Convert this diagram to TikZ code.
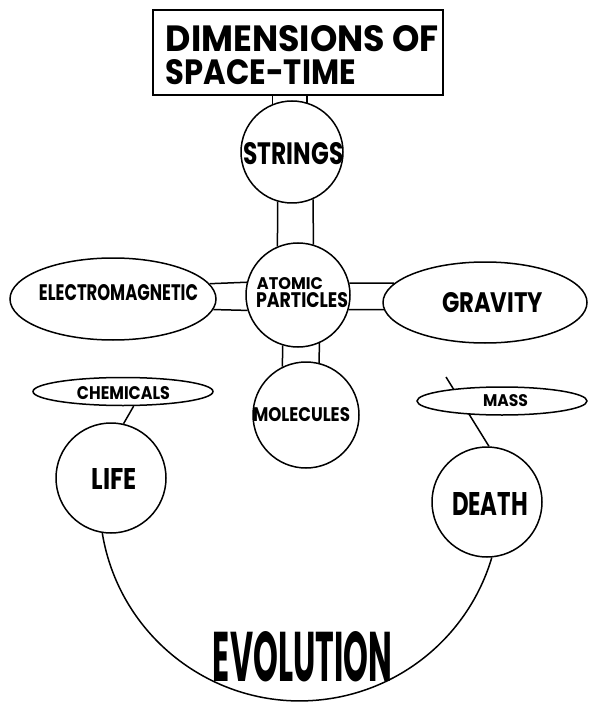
\documentclass[tikz,border=0pt]{standalone}
\usepackage{fontspec}
\setmainfont{Poppins}
\usepackage{graphicx}
\usetikzlibrary{shapes.geometric}
\begin{document}
\begin{tikzpicture}[x=1pt,y=-1pt,line width=1.5pt,
  circ/.style={circle,draw,inner sep=0pt,minimum size=#1},
  ell/.style 2 args={ellipse,draw,fill=white,inner sep=0pt,minimum width=#1,minimum height=#2},
  lbl/.style={inner sep=0pt,font=\bfseries}]
\useasboundingbox (0,0) rectangle (588,708);
% title
\node[draw,rectangle,inner sep=0pt,minimum width=290pt,minimum height=85pt] (title) at (298,52.5) {};
\node[lbl,anchor=base west] (t1) at (165,52) {\resizebox{273pt}{26pt}{DIMENSIONS OF}};
\node[lbl,anchor=base west] (t2) at (165,85) {\resizebox{190pt}{25pt}{SPACE-TIME}};
% nodes
\node[circ=102pt] (s) at (292,152) {};
\node[lbl] (st) at (293.5,154) {\resizebox{100pt}{22pt}{STRINGS}};
\node[circ=104pt] (a) at (298,295) {};
\node[lbl] (at1) at (290,284) {\resizebox{66pt}{12pt}{ATOMIC}};
\node[lbl] (at2) at (302,300.5) {\resizebox{92pt}{15pt}{PARTICLES}};
\node[ell={206pt}{82pt}] (em) at (113,299) {};
\node[lbl] (emt) at (118.5,293) {\resizebox{159pt}{16pt}{ELECTROMAGNETIC}};
\node[ell={204pt}{81pt}] (g) at (485,302.5) {};
\node[lbl] (gt) at (492.5,303) {\resizebox{101pt}{20pt}{GRAVITY}};
\node[circ=106pt] (m) at (306,415) {};
\node[lbl] (mt) at (301.5,415) {\resizebox{97pt}{14pt}{MOLECULES}};
\node[ell={180pt}{28pt}] (ch) at (123,391.5) {};
\node[lbl] (cht) at (123.5,393.5) {\resizebox{93pt}{13pt}{CHEMICALS}};
\node[circ=110pt] (life) at (111,478) {};
\node[lbl] (lt) at (114.5,478.5) {\resizebox{45pt}{21pt}{LIFE}};
\node[circ=110pt] (death) at (487,502) {};
\node[lbl] (dt) at (490,503.5) {\resizebox{76pt}{23pt}{DEATH}};
\coordinate (mtop) at (446,377);
\draw (mtop) -- (death.88);
\node[ell={170pt}{28pt}] (ms) at (502,401) {};
\node[lbl] (mst) at (505.5,401) {\resizebox{45pt}{12pt}{MASS}};
\node[lbl] (ev) at (302.5,657) {\resizebox{179pt}{50pt}{EVOLUTION}};
% connectors
\draw (title.south -| s.112) -- (s.112);
\draw (title.south -| s.73) -- (s.73);
\draw (s.-106) -- (a.113);
\draw (s.-66) -- (a.73);
\draw (a.-107) -- (m.116);
\draw (a.-66) -- (m.76);
\draw (em.9.6) -- (a.166.7);
\draw (em.-6.9) -- (a.197.9);
\draw (a.13.3) -- (g.168.1);
\draw (a.-16.8) -- (g.184.6);
\draw (ch.-54) -- (life.77);
\draw (life.-99) arc[start angle=170.7,end angle=16.5,radius=200.2];
\end{tikzpicture}
\end{document}
